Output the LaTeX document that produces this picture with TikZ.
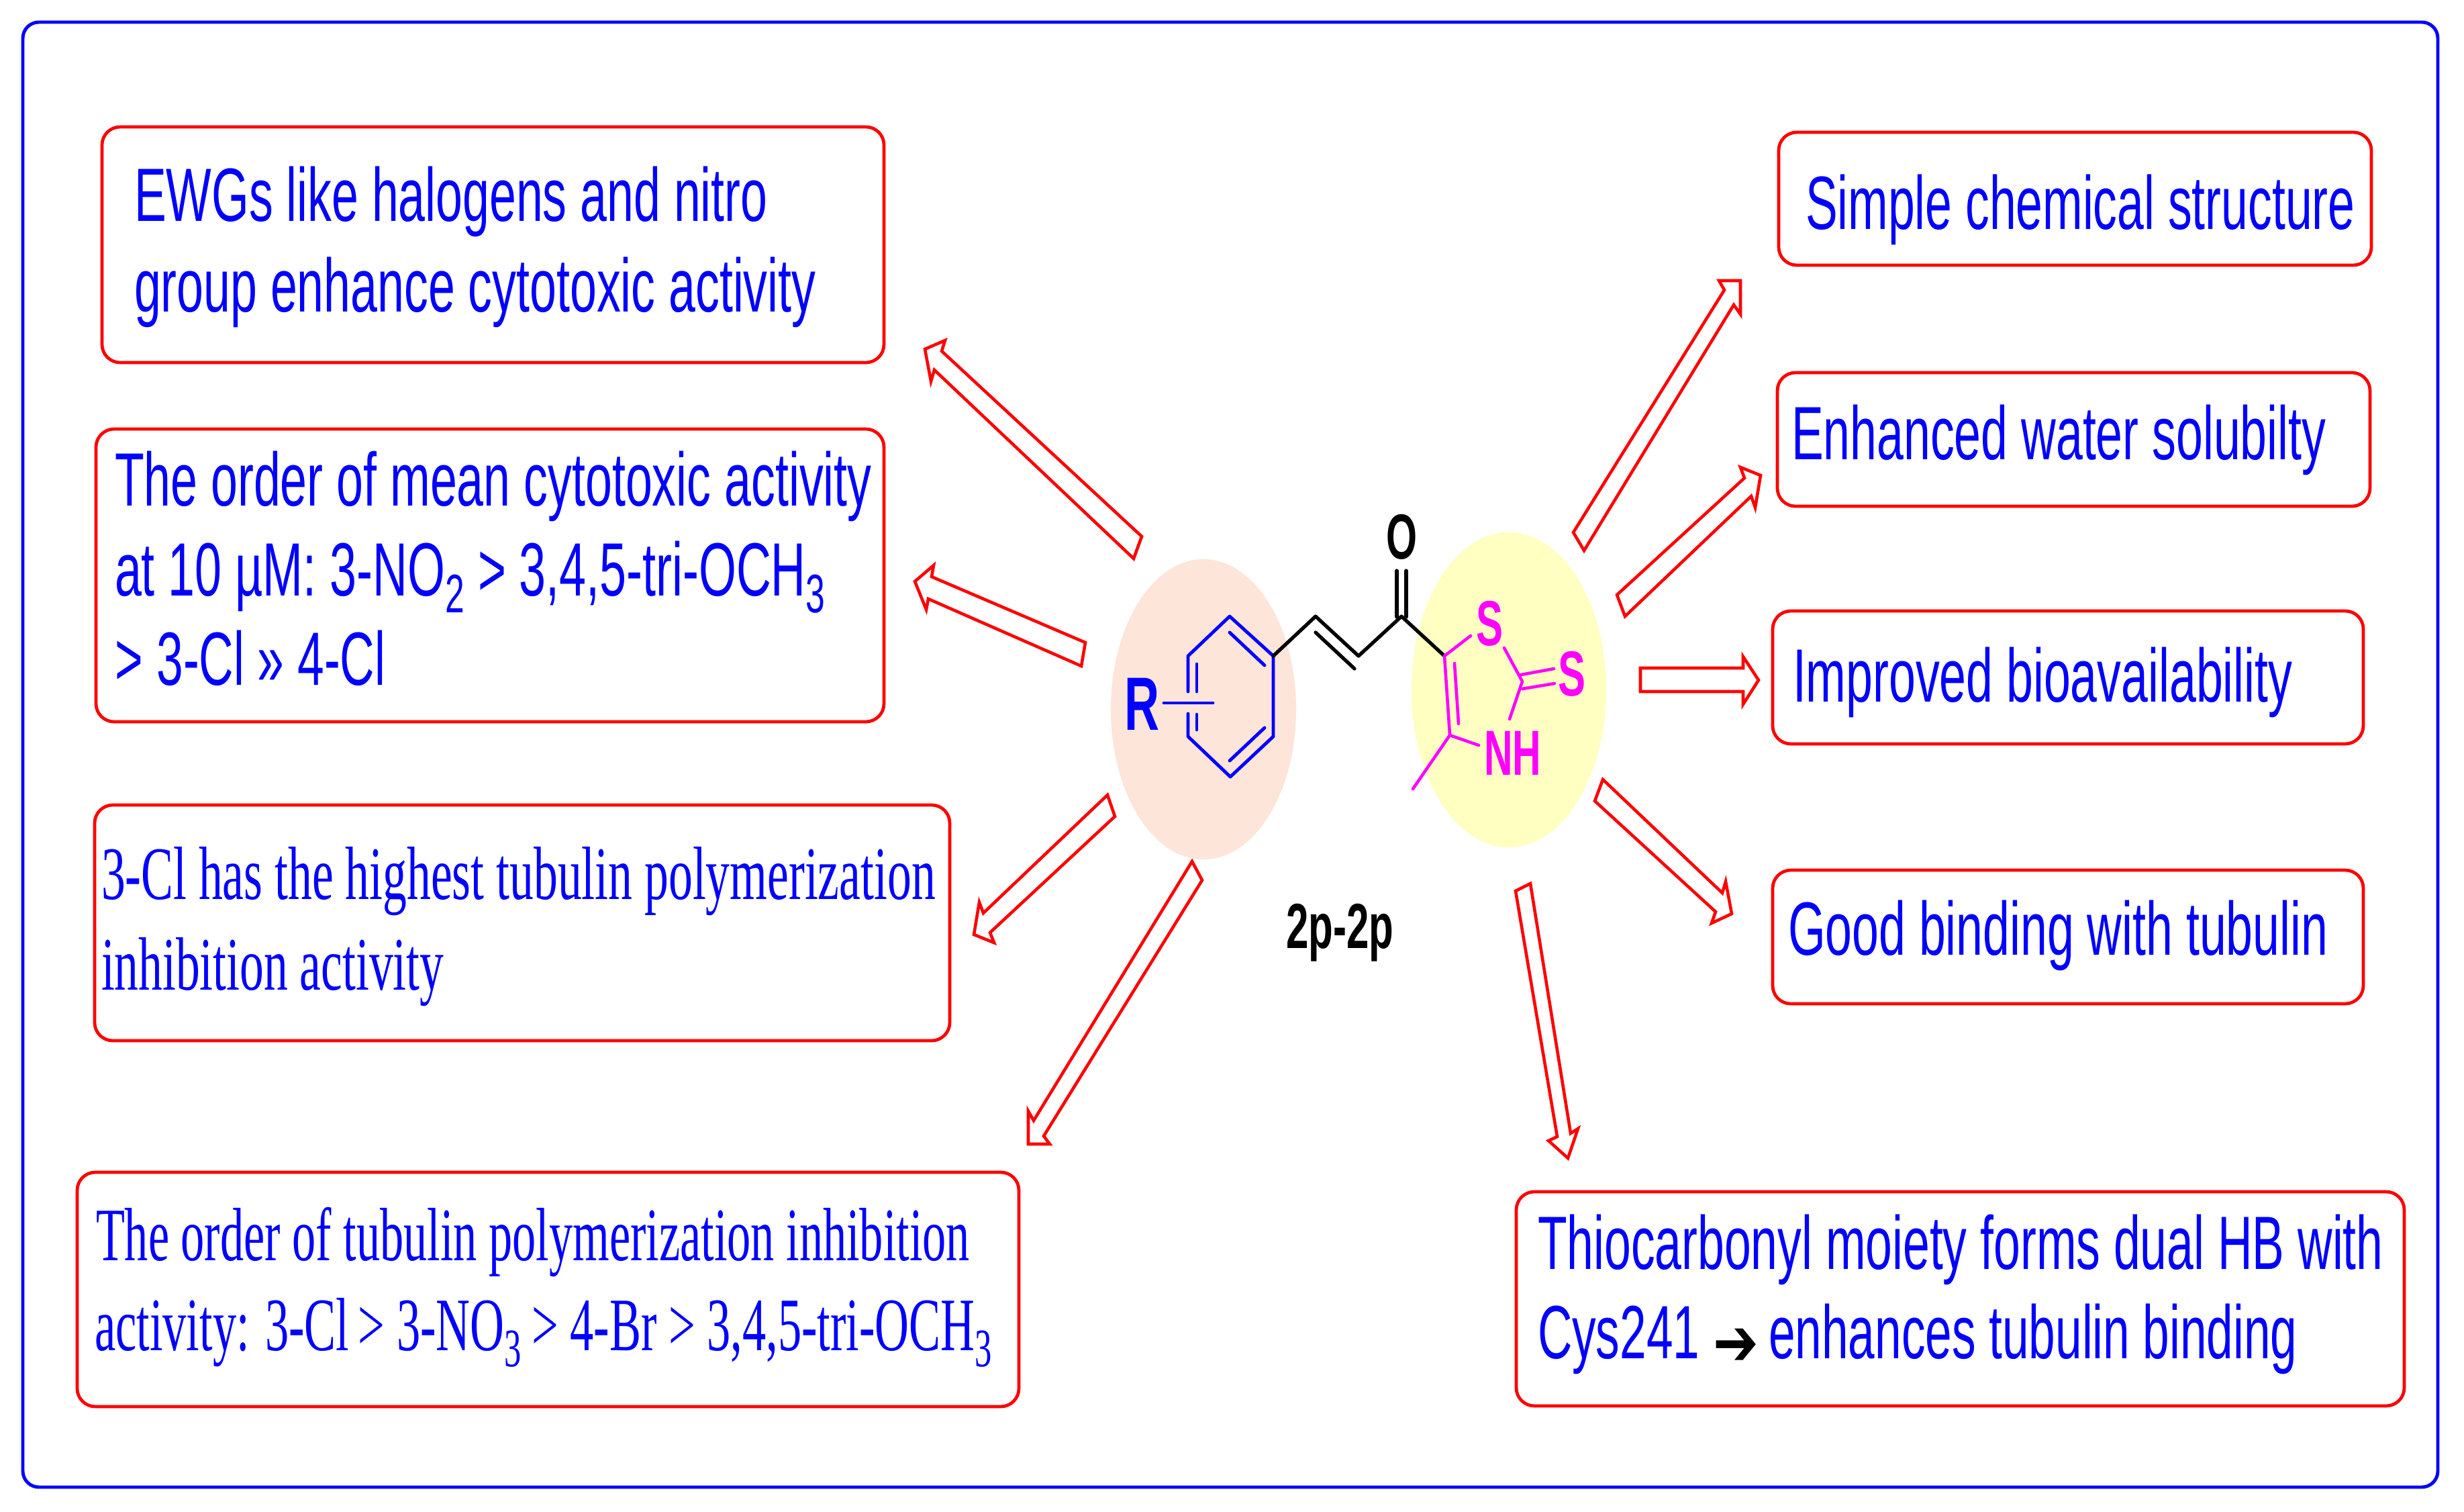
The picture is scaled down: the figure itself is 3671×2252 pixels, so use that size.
\documentclass[tikz,border=0pt]{standalone}
\usepackage{fontspec}
\usepackage{graphicx}
\usetikzlibrary{shapes.geometric}
\setmainfont{Liberation Sans}
\newfontfamily\timesf{Liberation Serif}
\newfontfamily\symf{DejaVu Sans}
\definecolor{peach}{HTML}{FDE5D9}
\definecolor{paleyellow}{HTML}{FFFFC2}
\definecolor{atompink}{RGB}{255,0,255}
\newsavebox\fitbox
\newcommand\sz[1]{\fontsize{#1}{#1}\selectfont}
% one line of text: name, left x, baseline y, width in px, font, text
\newcommand\fitline[6]{%
  \node[txtline] (#1) at (#2,#3) {\sbox\fitbox{#5#6}%
    \pgfmathsetmacro\fitr{#4*0.284528/\the\wd\fitbox}%
    \scalebox{\fitr}[1]{\usebox\fitbox}};}
\newcommand\rbox[5]{%
  \node[redbox,minimum width={(#4-#2)*0.01cm},minimum height={(#5-#3)*0.01cm}]
    (#1) at ({(#2+#4)/2},{(#3+#5)/2}) {};}
\newcommand\subs[1]{\raisebox{-7pt}{\sz{23}#1}}
\newcommand\subt[1]{\raisebox{-7pt}{\sz{23}#1}}
\tikzset{
  txtline/.style={anchor=base west,inner sep=0pt,outer sep=0pt,text=blue},
  redbox/.style={draw=red,line width=1.35pt,rounded corners=0.27cm,inner sep=0pt,fill=white},
  blockarrow/.style={draw=red,line width=1.3pt,fill=white,line join=miter},
  bondblue/.style={draw=blue,line width=1.4pt,line cap=round,line join=round},
  bondblack/.style={draw=black,line width=1.5pt,line cap=round,line join=round},
  bondpink/.style={draw=atompink,line width=1.3pt,line cap=round,line join=round},
}
\begin{document}
\begin{tikzpicture}[x=0.01cm,y=-0.01cm]
\useasboundingbox (0,0) rectangle (3671,2252);
\fill[white] (0,0) rectangle (3671,2252);
\node[draw=blue,line width=1.4pt,rounded corners=0.24cm,inner sep=0pt,
  minimum width={(3632-34)*0.01cm},minimum height={(2215-33)*0.01cm}] (frame) at (1833,1124) {};
% highlighted regions
\node[ellipse,fill=peach,minimum width=2.76cm,minimum height=4.47cm,inner sep=0pt] (leftregion) at (1793,1056.5) {};
\node[ellipse,fill=paleyellow,minimum width=2.90cm,minimum height=4.69cm,inner sep=0pt] (rightregion) at (2248,1027.5) {};
% boxes
\rbox{b1}{152}{189}{1317}{540}
\rbox{b2}{143}{639}{1317}{1075}
\rbox{b3}{141}{1199}{1415}{1550}
\rbox{b4}{115}{1746}{1518}{2095}
\rbox{b5}{2259}{1775}{3582}{2094}
\rbox{r1}{2650}{197}{3533}{395}
\rbox{r2}{2648}{555}{3531}{754}
\rbox{r3}{2641}{910}{3521}{1108}
\rbox{r4}{2641}{1296}{3521}{1495}
% box texts
\fitline{b1a}{200}{330}{943}{\sz{32}}{EWGs like halogens and nitro}
\fitline{b1b}{200}{465}{1015}{\sz{32}}{group enhance cytotoxic activity}
\fitline{b2a}{171}{754}{1127}{\sz{32}}{The order of mean cytotoxic activity}
\fitline{b2b}{171}{888}{1058}{\sz{32}}{at 10 µM: 3-NO\subs{2} > 3,4,5-tri-OCH\subs{3}}
\fitline{b2c}{172}{1021}{402}{\sz{32}}{> 3-Cl » 4-Cl}
\fitline{b3a}{151}{1339}{1242}{\timesf\sz{32}}{3-Cl has the highest tubulin polymerization}
\fitline{b3b}{151}{1474}{510}{\timesf\sz{32}}{inhibition activity}
\fitline{b4a}{143}{1877}{1301}{\timesf\sz{32}}{The order of tubulin polymerization inhibition}
\fitline{b4b}{141}{2011}{1336}{\timesf\sz{32}}{activity: 3-Cl\hspace{-2pt} > 3-NO\subt{3}\hspace{-1pt} > 4-Br > 3,4,5-tri-OCH\subt{3}}
\fitline{b5a}{2291}{1890}{1259}{\sz{32}}{Thiocarbonyl moiety forms dual HB with}
\fitline{b5b}{2291}{2023}{1131}{\sz{32}}{Cys241 {\color{black}\symf\sz{28}\raisebox{-3pt}{\scalebox{1.3}[1]{➔}}}\hspace{-2pt} enhances tubulin binding}
\fitline{r1t}{2690}{342}{818}{\sz{32}}{Simple chemical structure}
\fitline{r2t}{2669}{685}{796}{\sz{32}}{Enhanced water solubilty}
\fitline{r3t}{2671}{1046}{744}{\sz{32}}{Improved bioavailability}
\fitline{r4t}{2664}{1422}{804}{\sz{32}}{Good binding with tubulin}
% block arrows
\draw[blockarrow] (1701,799)--(1403,523)--(1408,507)--(1378,520)--(1387,568)--(1392,551)--(1689,832)--cycle;
\draw[blockarrow] (1617,957)--(1388,859)--(1391,842)--(1363,866)--(1380,908)--(1383,892)--(1611,992)--cycle;
\draw[blockarrow] (1650,1184)--(1465,1360)--(1459,1344)--(1451,1392)--(1481,1404)--(1475,1389)--(1661,1216)--cycle;
\draw[blockarrow] (1776,1283)--(1540,1669)--(1532,1655)--(1532,1704)--(1564,1704)--(1555,1692)--(1791,1311)--cycle;
\draw[blockarrow] (2344,793)--(2569,432)--(2561,418)--(2593,418)--(2593,468)--(2583,454)--(2360,820)--cycle;
\draw[blockarrow] (2409,886)--(2599,712)--(2593,696)--(2623,708)--(2615,756)--(2609,739)--(2421,918)--cycle;
\draw[blockarrow] (2444,995)--(2597,995)--(2597,978)--(2620,1013)--(2597,1049)--(2597,1030)--(2444,1030)--cycle;
\draw[blockarrow] (2388,1161)--(2566,1330)--(2571,1313)--(2580,1361)--(2550,1375)--(2556,1358)--(2376,1193)--cycle;
\draw[blockarrow] (2280,1316)--(2340,1688)--(2351,1681)--(2336,1725)--(2307,1699)--(2320,1693)--(2258,1327)--cycle;
% phenyl ring
\draw[bondblue] (1770,1030)--(1770,977)--(1832,918)--(1897,977)--(1897,1097)--(1833,1157)--(1770,1097)--(1770,1063);
\draw[bondblue] (1832,942)--(1884,991);
\draw[bondblue] (1832,1133)--(1884,1084);
\draw[bondblue] (1783,989)--(1783,1030);
\draw[bondblue] (1783,1064)--(1783,1087);
\draw[bondblue] (1734,1047)--(1807,1047);
% enone chain
\draw[bondblack] (1897,977)--(1960,918)--(2024,977)--(2088,918)--(2152,977);
\draw[bondblack] (1960,942)--(2018,996);
\draw[bondblack] (2081,850)--(2081,919);
\draw[bondblack] (2095,850)--(2095,919);
% thiazole ring
\draw[bondpink] (2191,947)--(2152,977)--(2160,1095)--(2203,1110);
\draw[bondpink] (2167,988)--(2173,1078);
\draw[bondpink] (2160,1095)--(2105,1175);
\draw[bondpink] (2241,965)--(2268,1015)--(2249,1071);
\draw[bondpink] (2266,1005)--(2315,996);
\draw[bondpink] (2268,1026)--(2316,1018);
% atom labels
\fitline{atomR}{1675}{1088}{52}{\bfseries\sz{32}\color{blue}}{R}
\fitline{atomO}{2065}{833}{46}{\bfseries\sz{27}\color{black}}{O}
\fitline{atomS}{2199}{962}{40}{\bfseries\sz{27}\color{atompink}}{S}
\fitline{atomSS}{2321}{1037}{41}{\bfseries\sz{27}\color{atompink}}{S}
\fitline{atomNH}{2211}{1154}{85}{\bfseries\sz{27}\color{atompink}}{NH}
\fitline{title}{1916}{1412}{160}{\bfseries\sz{27}\color{black}}{2p-2p}
\end{tikzpicture}
\end{document}
